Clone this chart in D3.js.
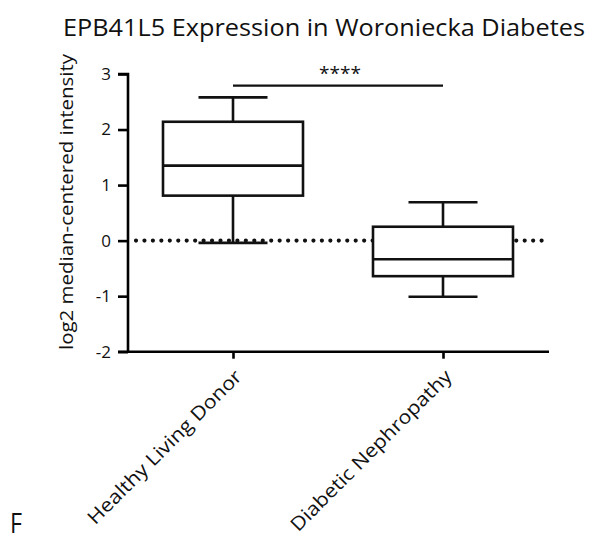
<!DOCTYPE html>
<html><head><meta charset="utf-8">
<script src="https://cdn.jsdelivr.net/npm/d3@7"></script>
<style>body{margin:0;background:#fff}svg{display:block}text{font-family:"Open Sans",sans-serif;fill:#111}</style>
</head><body><svg id="c" width="596" height="552"></svg>
<script>
const categories = ["Healthy Living Donor", "Diabetic Nephropathy"];
const whiskerLow = [-0.04, -1.01];
const q1 = [0.81, -0.64];
const median = [1.35, -0.335];
const q3 = [2.14, 0.25];
const whiskerHigh = [2.58, 0.69];
const yTicks = [-2, -1, 0, 1, 2, 3];
const sigLevel = 2.79;
const sigLabel = "****";
const title = "EPB41L5 Expression in Woroniecka Diabetes";
const yLabel = "log2 median-centered intensity";
const panel = "F";

const svg = d3.select("#c");
const y = d3.scaleLinear().domain([-2, 3]).range([351.7, 74]);
const x = d3.scalePoint().domain(categories).range([128, 548]).padding(0.5);
const lw = 2.6, boxW = 140, capW = 69;

// title
svg.append("text").attr("x", 324).attr("y", 36).attr("text-anchor", "middle")
  .style("font-size", "24px").attr("textLength", 522).attr("lengthAdjust", "spacingAndGlyphs").text(title);
// y label
svg.append("text").attr("transform", "translate(73,202) rotate(-90)").attr("text-anchor", "middle")
  .style("font-size", "19px").attr("textLength", 296).attr("lengthAdjust", "spacingAndGlyphs").text(yLabel);
svg.append("text").attr("x", 10).attr("y", 533).style("font-size", "27px")
  .attr("textLength", 12).attr("lengthAdjust", "spacingAndGlyphs").text(panel);

// y axis
const ya = svg.append("g").attr("transform", "translate(128,0)")
  .call(d3.axisLeft(y).tickValues(yTicks).tickSize(10).tickPadding(7).tickFormat(d => String(d)));
ya.select(".domain").attr("stroke-width", lw).attr("d", `M-10,${y(3)}H0V${y(-2)}`);
ya.selectAll(".tick line").attr("stroke-width", lw);
ya.selectAll(".tick text").style("font-size", "17px").attr("fill", "#111");

// x axis
const xa = svg.append("g").attr("transform", `translate(0,${y(-2)})`)
  .call(d3.axisBottom(x).tickSize(7).tickFormat(""));
xa.select(".domain").attr("stroke-width", lw).attr("d", `M118,0H549`);
xa.selectAll(".tick line").attr("stroke-width", lw);
const xLabLen = [209, 219];
categories.forEach((c, i) => {
  svg.append("text").attr("transform", `translate(${x(c) + 10},${y(-2) + 26}) rotate(-45)`)
    .attr("text-anchor", "end").style("font-size", "19px")
    .attr("textLength", xLabLen[i]).attr("lengthAdjust", "spacingAndGlyphs").text(c);
});

// zero dotted line
svg.append("line").attr("x1", 136).attr("x2", 547).attr("y1", y(0)).attr("y2", y(0))
  .attr("stroke", "#111").attr("stroke-width", 4.2).attr("stroke-linecap", "round")
  .attr("stroke-dasharray", "0,8.45");

// boxes
categories.forEach((c, i) => {
  const cx = x(c);
  const g = svg.append("g").attr("stroke", "#111").attr("stroke-width", lw).attr("fill", "none");
  g.append("line").attr("x1", cx).attr("x2", cx).attr("y1", y(whiskerHigh[i])).attr("y2", y(q3[i]));
  g.append("line").attr("x1", cx).attr("x2", cx).attr("y1", y(q1[i])).attr("y2", y(whiskerLow[i]));
  g.append("line").attr("x1", cx - capW / 2).attr("x2", cx + capW / 2).attr("y1", y(whiskerHigh[i])).attr("y2", y(whiskerHigh[i]));
  g.append("line").attr("x1", cx - capW / 2).attr("x2", cx + capW / 2).attr("y1", y(whiskerLow[i])).attr("y2", y(whiskerLow[i]));
  g.append("rect").attr("x", cx - boxW / 2).attr("width", boxW).attr("y", y(q3[i]))
    .attr("height", y(q1[i]) - y(q3[i])).attr("fill", "#fff");
  g.append("line").attr("x1", cx - boxW / 2).attr("x2", cx + boxW / 2).attr("y1", y(median[i])).attr("y2", y(median[i]));
});

// significance
svg.append("line").attr("x1", x(categories[0])).attr("x2", x(categories[1]))
  .attr("y1", y(sigLevel)).attr("y2", y(sigLevel)).attr("stroke", "#111").attr("stroke-width", 2.2);
svg.append("text").attr("x", 340).attr("y", y(sigLevel) - 6)
  .attr("text-anchor", "middle").style("font-size", "19px").attr("fill", "#444").text(sigLabel);
</script></body></html>
